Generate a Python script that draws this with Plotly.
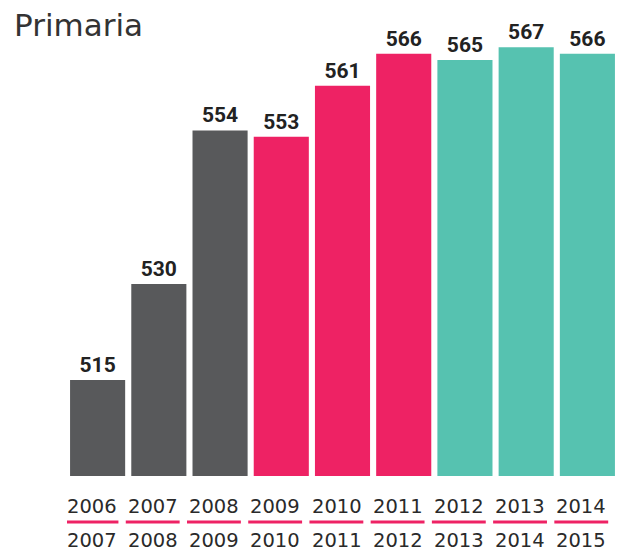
import plotly.graph_objects as go

periods = ["2006-2007", "2007-2008", "2008-2009", "2009-2010", "2010-2011",
           "2011-2012", "2012-2013", "2013-2014", "2014-2015"]
start_years = ["2006", "2007", "2008", "2009", "2010", "2011", "2012", "2013", "2014"]
end_years = ["2007", "2008", "2009", "2010", "2011", "2012", "2013", "2014", "2015"]
values = [515, 530, 554, 553, 561, 566, 565, 567, 566]
groups = ["grey", "grey", "grey", "pink", "pink", "pink", "teal", "teal", "teal"]

palette = {"grey": "#58595b", "pink": "#ee2264", "teal": "#56c2b0"}
colors = [palette[g] for g in groups]

fig = go.Figure()
fig.add_trace(go.Bar(
    x=periods, y=values,
    marker=dict(color=colors, line=dict(width=0)),
    text=[str(v) for v in values],
    textposition="outside",
    cliponaxis=False,
    textfont=dict(family="Roboto", size=21, color="#222222", weight="bold"),
    hoverinfo="skip",
))

annotations = []
shapes = []
for i, (a, b) in enumerate(zip(start_years, end_years)):
    annotations.append(dict(x=periods[i], y=-0.0695, xref="x", yref="paper",
                            text=a, showarrow=False, xshift=-6, yanchor="middle",
                            font=dict(family="DejaVu Sans", size=19.5, color="#2a2a2a")))
    annotations.append(dict(x=periods[i], y=-0.1457, xref="x", yref="paper",
                            text=b, showarrow=False, xshift=-6, yanchor="middle",
                            font=dict(family="DejaVu Sans", size=19.5, color="#2a2a2a")))
    shapes.append(dict(type="line", xref="x", yref="paper",
                       x0=i - 0.1 - 0.44, x1=i - 0.1 + 0.44, y0=-0.103, y1=-0.103,
                       line=dict(color="#ee2264", width=3)))

fig.update_layout(
    width=618, height=555,
    margin=dict(l=67, r=0, t=30, b=79),
    paper_bgcolor="white", plot_bgcolor="white",
    bargap=0.1,
    showlegend=False,
    hovermode=False,
    title=dict(text="Primaria", x=14 / 618, xref="container", xanchor="left",
               y=1 - 25 / 555, yref="container", yanchor="middle",
               font=dict(family="DejaVu Sans", size=31, color="#333333")),
    xaxis=dict(showticklabels=False, showgrid=False, zeroline=False, showline=False,
               ticks="", range=[-0.5, 8.5], fixedrange=True),
    yaxis=dict(range=[500, 569.7], showticklabels=False, showgrid=False,
               zeroline=False, showline=False, ticks="", fixedrange=True),
    annotations=annotations,
    shapes=shapes,
)

fig.write_html("out.html", config={"displayModeBar": False},
               post_script="document.body.style.margin='0';document.body.style.overflow='hidden';")
